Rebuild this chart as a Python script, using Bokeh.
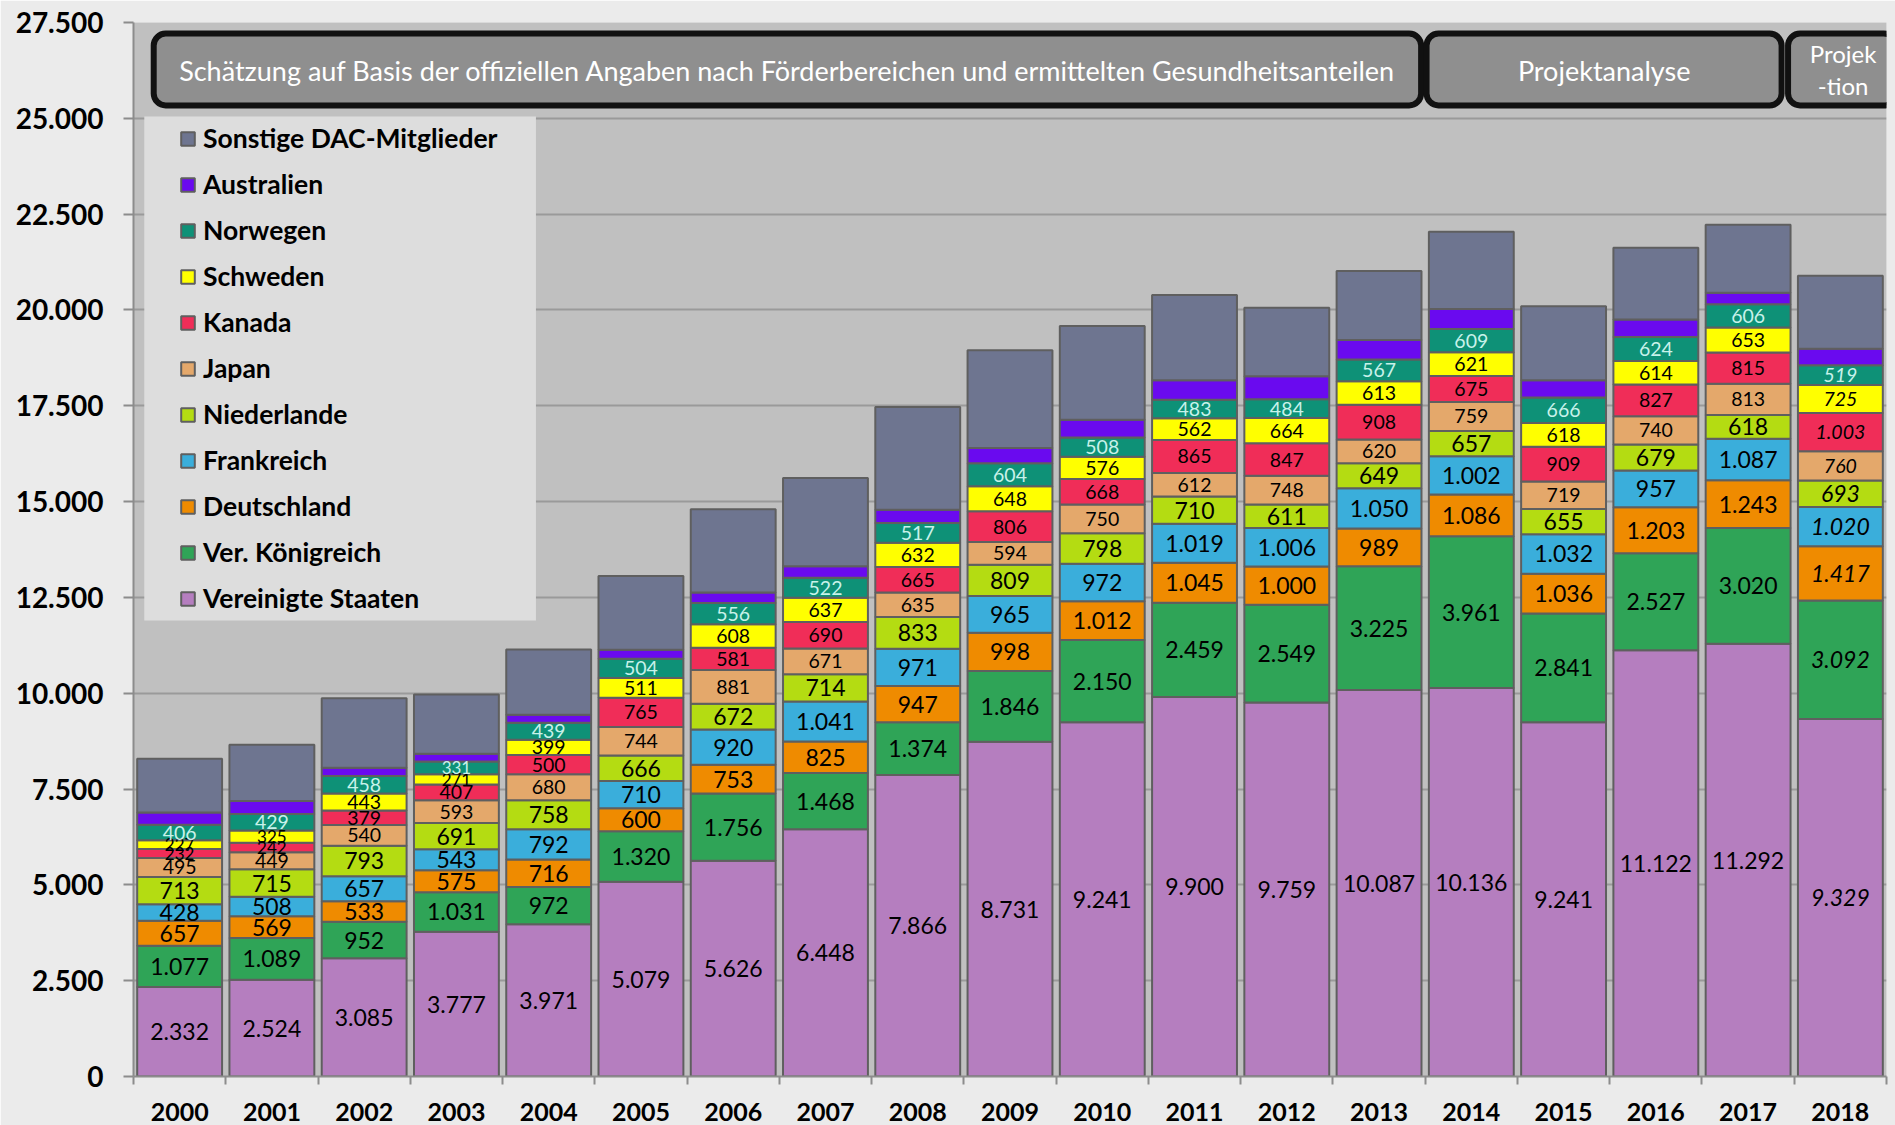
import numpy as np
from bokeh.plotting import figure
from bokeh.models import (ColumnDataSource, Range1d, FixedTicker, BoxAnnotation,
                          Label, Legend, LegendItem)
from bokeh.core.properties import value
from bokeh.embed import file_html
from bokeh.resources import INLINE

# ---------------- data ----------------
years = ["2000", "2001", "2002", "2003", "2004", "2005", "2006", "2007", "2008", "2009",
         "2010", "2011", "2012", "2013", "2014", "2015", "2016", "2017", "2018"]

usa = [2332, 2524, 3085, 3777, 3971, 5079, 5626, 6448, 7866, 8731,
       9241, 9900, 9759, 10087, 10136, 9241, 11122, 11292, 9329]
uk = [1077, 1089, 952, 1031, 972, 1320, 1756, 1468, 1374, 1846,
      2150, 2459, 2549, 3225, 3961, 2841, 2527, 3020, 3092]
de = [657, 569, 533, 575, 716, 600, 753, 825, 947, 998,
      1012, 1045, 1000, 989, 1086, 1036, 1203, 1243, 1417]
fr = [428, 508, 657, 543, 792, 710, 920, 1041, 971, 965,
      972, 1019, 1006, 1050, 1002, 1032, 957, 1087, 1020]
nl = [713, 715, 793, 691, 758, 666, 672, 714, 833, 809,
      798, 710, 611, 649, 657, 655, 679, 618, 693]
jp = [495, 449, 540, 593, 680, 744, 881, 671, 635, 594,
      750, 612, 748, 620, 759, 719, 740, 813, 760]
ca = [232, 242, 379, 407, 500, 765, 581, 690, 665, 806,
      668, 865, 847, 908, 675, 909, 827, 815, 1003]
se = [227, 325, 443, 271, 399, 511, 608, 637, 632, 648,
      576, 562, 664, 613, 621, 618, 614, 653, 725]
no = [406, 429, 458, 331, 439, 504, 556, 522, 517, 604,
      508, 483, 484, 567, 609, 666, 624, 606, 519]
# unlabeled series
au = [320, 340, 215, 200, 210, 235, 275, 300, 345, 400,
      460, 510, 600, 510, 520, 450, 460, 300, 430]
sonst = [1404, 1466, 1817, 1550, 1706, 1922, 2169, 2298, 2682, 2545,
         2446, 2224, 1791, 1798, 2017, 1927, 1871, 1779, 1907]

series_names = ["Vereinigte Staaten", "Ver. Königreich", "Deutschland", "Frankreich",
                "Niederlande", "Japan", "Kanada", "Schweden", "Norwegen", "Australien",
                "Sonstige DAC-Mitglieder"]
series_vals = [usa, uk, de, fr, nl, jp, ca, se, no, au, sonst]
labeled = [True, True, True, True, True, True, True, True, True, False, False]
colors = ["#b57ebf", "#2fa457", "#ef8b00", "#3aaedb", "#b4dc12", "#e4a86b",
          "#f02d58", "#ffff00", "#0e9177", "#6a0aef", "#6e7590"]

y_ticks = list(range(0, 27501, 2500))
box_texts = ["Schätzung auf Basis der offiziellen Angaben nach Förderbereichen und ermittelten Gesundheitsanteilen",
             "Projektanalyse", "Projek", "-tion"]


def de_fmt(v):
    return f"{v:,}".replace(",", ".")


# ---------------- figure ----------------
p = figure(width=1895, height=1125, x_range=Range1d(-0.5, 18.5), y_range=Range1d(0, 27500),
           output_backend="svg", toolbar_location=None,
           min_border_left=133, min_border_right=9, min_border_top=22, min_border_bottom=49,
           background_fill_color="#c0c0c0", border_fill_color="#ebebeb",
           outline_line_color=None)

xs = list(range(len(years)))
keys = [f"s{i}" for i in range(len(series_vals))]
data = {"x": xs}
for k, v in zip(keys, series_vals):
    data[k] = v
src = ColumnDataSource(data)
rends = p.vbar_stack(keys, x="x", width=0.92, source=src, fill_color=colors,
                     line_color="#5f5f5f", line_width=2)

# segment labels
lx, ly, lt, ls, lc, lst = [], [], [], [], [], []
bottom = np.zeros(len(years))
big = {0, 1, 2, 3, 4}
for si, vals in enumerate(series_vals):
    v = np.array(vals, dtype=float)
    if labeled[si]:
        for i in range(len(years)):
            lx.append(xs[i])
            ly.append(bottom[i] + v[i] / 2)
            lt.append(de_fmt(vals[i]))
            if si in big:
                ls.append("23px")
            else:
                ls.append("17px" if vals[i] < 340 else "19.5px")
            lc.append("#c8f2ea" if series_names[si] == "Norwegen" else "#000000")
            lst.append("italic" if years[i] == "2018" else "normal")
    bottom = bottom + v

lsrc = ColumnDataSource(dict(x=lx, y=ly, text=lt, size=ls, color=lc, style=lst))
p.text(x="x", y="y", text="text", source=lsrc, text_align="center", text_baseline="middle",
       text_font=value("Lato"), text_font_size="size", text_color="color",
       text_font_style="style")

# ---------------- axes / grid ----------------
p.xgrid.grid_line_color = None
p.ygrid.ticker = FixedTicker(ticks=y_ticks)
p.ygrid.grid_line_color = "#9a9a9a"
p.ygrid.grid_line_width = 2

p.yaxis.ticker = FixedTicker(ticks=y_ticks)
p.yaxis.major_label_overrides = {t: de_fmt(t) for t in y_ticks}
p.yaxis.major_label_text_font = "Lato"
p.yaxis.major_label_text_font_style = "bold"
p.yaxis.major_label_text_font_size = "28px"
p.yaxis.major_label_text_color = "#000000"
p.yaxis.major_tick_out = 10
p.yaxis.major_tick_in = 0
p.yaxis.minor_tick_out = 0
p.yaxis.minor_tick_in = 0
p.yaxis.major_tick_line_color = "#8c8c8c"
p.yaxis.major_tick_line_width = 2
p.yaxis.axis_line_color = "#8c8c8c"
p.yaxis.axis_line_width = 2
p.yaxis.major_label_standoff = 20

p.xaxis.ticker = FixedTicker(ticks=xs, minor_ticks=[i - 0.5 for i in range(len(years) + 1)])
p.xaxis.major_label_overrides = {i: y for i, y in enumerate(years)}
p.xaxis.major_label_text_font = "Lato"
p.xaxis.major_label_text_font_style = "bold"
p.xaxis.major_label_text_font_size = "25px"
p.xaxis.major_label_text_color = "#000000"
p.xaxis.major_tick_out = 0
p.xaxis.major_tick_in = 0
p.xaxis.minor_tick_out = 8
p.xaxis.minor_tick_in = 0
p.xaxis.minor_tick_line_color = "#8c8c8c"
p.xaxis.minor_tick_line_width = 2
p.xaxis.axis_line_color = "#8c8c8c"
p.xaxis.axis_line_width = 2
p.xaxis.major_label_standoff = 18

# ---------------- legend ----------------
p.add_layout(BoxAnnotation(left=-0.383, right=3.862, bottom=11900, top=25050,
                           fill_color="#dddddd", fill_alpha=1, line_color=None))
items = [LegendItem(label=series_names[i], renderers=[rends[i]])
         for i in reversed(range(len(series_names)))]
legend = Legend(items=items, location=(46, 462), padding=0, margin=0, spacing=14,
                glyph_width=17, glyph_height=17, label_height=31, label_standoff=7,
                label_text_font="Lato", label_text_font_style="bold",
                label_text_font_size="26.5px", label_text_color="#000000",
                background_fill_alpha=0, border_line_color=None)
p.add_layout(legend)

# ---------------- header boxes ----------------
boxes = [(-0.281, 13.456), (13.515, 17.363), (17.433, 18.60)]
for l, r in boxes:
    p.add_layout(BoxAnnotation(left=l, right=r, bottom=25335, top=27213,
                               fill_color="#8f8f8f", fill_alpha=1, line_color="#111111",
                               line_alpha=1.0, line_width=6, border_radius=12))
for txt, x, y, fs in [(box_texts[0], 6.59, 26260, "27px"),
                      (box_texts[1], 15.44, 26260, "27px"),
                      (box_texts[2], 18.03, 26700, "24px"),
                      (box_texts[3], 18.03, 25860, "24px")]:
    p.add_layout(Label(x=x, y=y, text=txt, text_align="center", text_baseline="middle",
                       text_color="#ffffff", text_font="Lato", text_font_size=fs))

open("out.html", "w").write(file_html(p, INLINE))
